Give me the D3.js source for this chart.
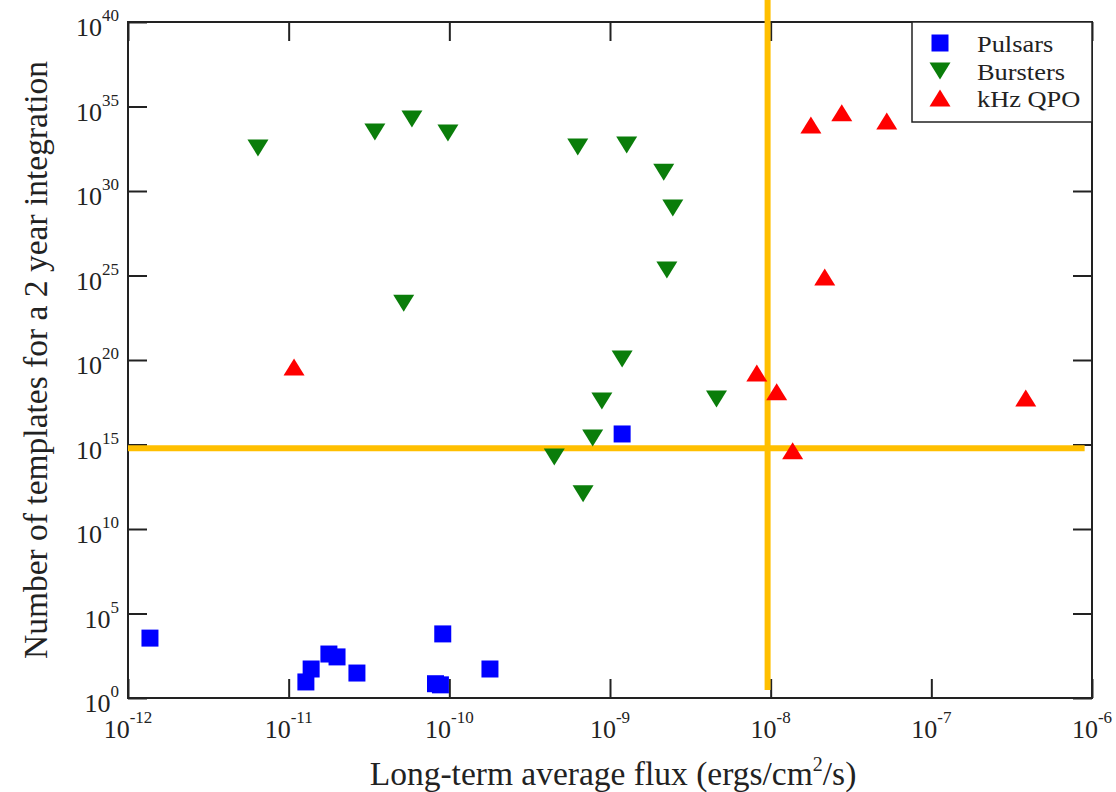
<!DOCTYPE html>
<html>
<head>
<meta charset="utf-8">
<script src="https://cdn.jsdelivr.net/npm/d3@7"></script>
<style>
  html, body { margin: 0; padding: 0; background: #fff; }
  svg { display: block; }
  text { font-family: "Liberation Serif", "Times New Roman", serif; fill: #222; }
</style>
</head>
<body>
<svg id="chart" width="1116" height="792"></svg>
<script>
// Long-term average flux (ergs/cm^2/s) vs. number of search templates
const pulsarFlux      = [1.37e-12, 1.28e-11, 1.38e-11, 1.78e-11, 2.0e-11, 2.66e-11, 9.1e-11, 8.2e-11, 8.8e-11, 1.79e-10, 1.19e-9];
const pulsarTemplates = [3.5e3,    8.9,      52,       400,      270,     30,       6.2e3,   7,       6,       52,       4.2e15];

const bursterFlux      = [6.44e-12, 3.44e-11, 5.85e-11, 9.8e-11, 6.3e-10, 1.27e-9, 2.16e-9, 2.46e-9, 2.26e-9, 5.2e-11, 1.19e-9, 8.9e-10, 4.6e-9, 7.8e-10, 4.5e-10, 6.8e-10];
const bursterTemplates = [3.5e32,   3.1e33,   1.8e34,   2.7e33,  4.0e32,  5.2e32,  1.3e31,  9.8e28,  2.1e25,  2.3e23,  1.15e20, 3.7e17,  4.9e17, 2.4e15,  1.8e14,  1.2e12];

const qpoFlux      = [1.08e-11, 8.2e-9, 1.09e-8, 1.37e-8, 2.17e-8, 3.87e-7, 1.78e-8, 2.77e-8, 5.28e-8];
const qpoTemplates = [3.9e19,   1.7e19, 1.3e18,  4.2e14,  8.1e24,  5.6e17,  8.1e33,  4.2e34,  1.4e34];

const seriesNames = ["Pulsars", "Bursters", "kHz QPO"];

const xTickValues = [1e-12, 1e-11, 1e-10, 1e-9, 1e-8, 1e-7, 1e-6];
const yTickValues = [1e0, 1e5, 1e10, 1e15, 1e20, 1e25, 1e30, 1e35, 1e40];

// Threshold guide lines (flux ~1e-8, templates ~1e15)
const fluxThreshold = 9.57e-9;
const fluxThresholdSpan = [2e41, 3];
const templateThreshold = 5.96e14;
const templateThresholdSpan = [1e-12, 9.0e-7];

const svg = d3.select("#chart");
const plotL = 128, plotR = 1092, plotT = 22, plotB = 698;

const x = d3.scaleLog().domain([1e-12, 1e-6]).range([plotL, plotR]);
const y = d3.scaleLog().domain([1e0, 1e40]).range([plotB, plotT]);

const colors = { "Pulsars": "#0000ff", "Bursters": "#0a7d0a", "kHz QPO": "#ff0000" };

function shapePath(kind) {
  if (kind === "Pulsars") { const s = 8.5; return `M${-s},${-s}H${s}V${s}H${-s}Z`; }
  const w = 10.5, h = 8.5;
  if (kind === "Bursters") return `M${-w},${-h}H${w}L0,${h}Z`;
  return `M${-w},${h}H${w}L0,${-h}Z`;
}

// Ticks on all four sides, pointing inward
const tickLen = 19;
svg.append("g").attr("transform", `translate(0,${plotB})`)
  .call(d3.axisBottom(x).tickValues(xTickValues).tickSize(-tickLen).tickSizeOuter(0).tickFormat(""));
svg.append("g").attr("transform", `translate(0,${plotT})`)
  .call(d3.axisTop(x).tickValues(xTickValues).tickSize(-tickLen).tickSizeOuter(0).tickFormat(""));
svg.append("g").attr("transform", `translate(${plotL},0)`)
  .call(d3.axisLeft(y).tickValues(yTickValues).tickSize(-tickLen).tickSizeOuter(0).tickFormat(""));
svg.append("g").attr("transform", `translate(${plotR},0)`)
  .call(d3.axisRight(y).tickValues(yTickValues).tickSize(-tickLen).tickSizeOuter(0).tickFormat(""));
svg.selectAll(".domain").remove();
svg.selectAll(".tick line").attr("stroke", "#222").attr("stroke-width", 2);

// Frame
svg.append("rect")
  .attr("x", plotL).attr("y", plotT)
  .attr("width", plotR - plotL).attr("height", plotB - plotT)
  .attr("fill", "none").attr("stroke", "#222").attr("stroke-width", 2);

// Power-of-ten tick labels
function powerLabel(sel, v) {
  const e = Math.round(Math.log10(v));
  sel.append("tspan").attr("font-size", 26).text("10");
  sel.append("tspan").attr("font-size", 17).attr("dy", -15).text(String(e));
}
xTickValues.forEach(v => {
  const t = svg.append("text")
    .attr("x", x(v)).attr("y", 738)
    .attr("text-anchor", "middle");
  powerLabel(t, v);
});
yTickValues.forEach(v => {
  const t = svg.append("text")
    .attr("x", 119).attr("y", y(v) + 14)
    .attr("text-anchor", "end");
  powerLabel(t, v);
});

// Axis titles
const xt = svg.append("text")
  .attr("x", 613).attr("y", 785)
  .attr("text-anchor", "middle").attr("font-size", 33.5);
xt.append("tspan").text("Long-term average flux (ergs/cm");
xt.append("tspan").attr("font-size", 20).attr("dy", -14).text("2");
xt.append("tspan").attr("dy", 14).text("/s)");

svg.append("text")
  .attr("transform", "translate(47,360) rotate(-90)")
  .attr("text-anchor", "middle").attr("font-size", 33.5)
  .text("Number of templates for a 2 year integration");

// Threshold lines
const guide = "#ffbf00";
svg.append("line")
  .attr("x1", x(templateThresholdSpan[0])).attr("x2", x(templateThresholdSpan[1]))
  .attr("y1", y(templateThreshold)).attr("y2", y(templateThreshold))
  .attr("stroke", guide).attr("stroke-width", 6);
svg.append("line")
  .attr("x1", x(fluxThreshold)).attr("x2", x(fluxThreshold))
  .attr("y1", y(fluxThresholdSpan[0])).attr("y2", y(fluxThresholdSpan[1]))
  .attr("stroke", guide).attr("stroke-width", 6);

// Data points
const series = [
  { name: "Pulsars",  flux: pulsarFlux,  templates: pulsarTemplates },
  { name: "Bursters", flux: bursterFlux, templates: bursterTemplates },
  { name: "kHz QPO",  flux: qpoFlux,     templates: qpoTemplates }
];
series.forEach(s => {
  const pts = s.flux.map((f, i) => ({ f, n: s.templates[i] }));
  svg.append("g").selectAll("path").data(pts).join("path")
    .attr("d", shapePath(s.name))
    .attr("transform", d => `translate(${x(d.f)},${y(d.n)})`)
    .attr("fill", colors[s.name]);
});

// Legend
const legend = svg.append("g");
legend.append("rect")
  .attr("x", 912).attr("y", plotT).attr("width", plotR - 912).attr("height", 100)
  .attr("fill", "#fff").attr("stroke", "#222").attr("stroke-width", 1.5);
const rowY = [43, 71, 98];
seriesNames.forEach((name, i) => {
  legend.append("path")
    .attr("d", shapePath(name))
    .attr("transform", `translate(940,${rowY[i]})`)
    .attr("fill", colors[name]);
  legend.append("text")
    .attr("transform", `translate(977,${rowY[i] + 9}) scale(1.1,1)`)
    .attr("font-size", 24)
    .text(name);
});
</script>
</body>
</html>
